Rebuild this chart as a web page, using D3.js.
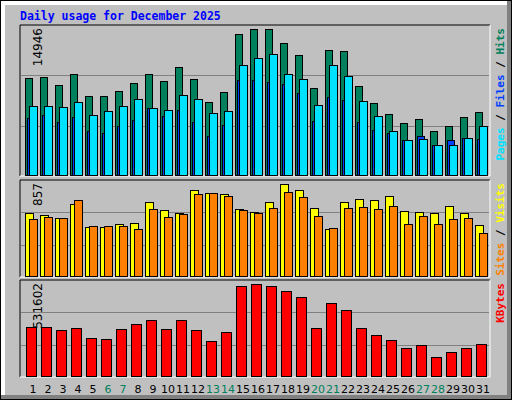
<!DOCTYPE html>
<html><head><meta charset="utf-8">
<script src="https://cdn.jsdelivr.net/npm/d3@7"></script>
<style>body{margin:0;background:#fff}</style>
</head><body>
<div id="chart"></div>
<script>
// values
const days = d3.range(1, 32);
const weekend = [6, 7, 13, 14, 20, 21, 27, 28];
const hits = [9933,10035,9222,10340,8103,8103,8612,9425,10340,9628,11052,9832,7493,8510,14407,14946,14900,13492,12272,8917,12780,12678,9120,7391,6273,5358,5765,4545,5053,5968,6476];
const files = [7086,7086,6985,7493,6171,6578,7086,7798,6883,6680,8205,7798,6375,6578,11255,11967,12373,10340,9832,7188,11255,10137,7595,6070,4545,3630,3731,3020,3020,3833,5053];
const pages = [5866,6171,5460,5968,4545,4341,5053,5663,6883,6070,6680,5460,4036,5155,9730,9730,9527,9323,8408,5561,8001,7697,5460,4646,4341,3630,4036,3020,3630,3833,3731];
const visits = [586,567,539,670,455,455,483,492,689,614,586,801,773,763,623,595,689,857,801,633,436,689,717,707,745,605,595,586,651,586,474];
const sites = [530,548,539,707,464,464,464,436,623,548,576,763,773,745,614,586,633,782,735,558,446,633,642,623,651,483,558,483,530,539,399];
const kbytes = [281329,281329,263867,275508,217302,211481,269688,298791,322073,269688,322073,263867,199841,252226,519974,531602,519974,490871,455947,275508,421023,380279,275508,234764,205661,159096,176558,112532,135814,159096,182379];

const W = 512, H = 400;
const svg = d3.select("#chart").append("svg").attr("width", W).attr("height", H);

// frame with 3D edges
svg.append("rect").attr("x", 0).attr("y", 0).attr("width", W).attr("height", H).attr("fill", "#000");
svg.append("rect").attr("x", 1).attr("y", 1).attr("width", W - 2).attr("height", H - 2).attr("fill", "#808080");
svg.append("rect").attr("x", 1).attr("y", 1).attr("width", W - 6).attr("height", H - 6).attr("fill", "#fff");
svg.append("rect").attr("x", 5).attr("y", 5).attr("width", W - 10).attr("height", H - 10).attr("fill", "#c0c0c0");

svg.append("text").attr("x", 20).attr("y", 20)
  .style("font", "bold 11.5px 'DejaVu Sans Mono'").attr("fill", "#0000ff")
  .text("Daily usage for December 2025");

const x = d3.scaleBand().domain(days).range([25, 490]).paddingInner(0).paddingOuter(0);
// slot width 15
const slot = d => 25 + (d - 1) * 15;

function panel(top, bottom, max, label, series, legend) {
  svg.append("rect").attr("x", 20).attr("y", top).attr("width", 470).attr("height", bottom - top)
    .attr("fill", "#c0c0c0");
  svg.append("path").attr("d", `M20,${bottom}V${top}H490`).attr("stroke", "#000").attr("fill", "none");
  svg.append("path").attr("d", `M490,${top}V${bottom}H20`).attr("stroke", "#fff").attr("fill", "none");
  const y = d3.scaleLinear().domain([0, max]).range([bottom - 1, top + 4]);
  const h = bottom - top;
  [1, 2].forEach(k => svg.append("line").attr("x1", 21).attr("x2", 489)
    .attr("y1", Math.round(top + h * k / 3) + 0.5).attr("y2", Math.round(top + h * k / 3) + 0.5)
    .attr("stroke", "#808080"));
  series.forEach(s => {
    svg.append("g").selectAll("rect").data(s.values).join("rect")
      .attr("x", (v, i) => slot(days[i]) + s.dx + 0.5)
      .attr("width", s.w)
      .attr("y", v => Math.round(y(v)) + 0.5)
      .attr("height", v => Math.round(y(0)) - Math.round(y(v)))
      .attr("fill", s.color).attr("stroke", "#000");
  });
  svg.append("text").attr("transform", `translate(42,${top + 3}) rotate(-90)`)
    .attr("text-anchor", "end").style("font", "12px 'DejaVu Sans'").attr("fill", "#000")
    .text(label);
  const t = svg.append("text").attr("transform", `translate(504,${top + 3}) rotate(-90)`)
    .attr("text-anchor", "end").style("font", "bold 11px 'DejaVu Sans Mono'");
  legend.forEach(l => t.append("tspan").attr("fill", l[1]).text(l[0]));
}

panel(25, 176, 14946, "14946", [
  {values: hits, color: "#00805c", dx: 0, w: 7},
  {values: pages, color: "#0040ff", dx: 2, w: 7},
  {values: files, color: "#00e0ff", dx: 4, w: 8}
], [["Pages", "#00e0ff"], [" / ", "#000"], ["Files", "#0040ff"], [" / ", "#000"], ["Hits", "#00805c"]]);

panel(180, 277, 857, "857", [
  {values: visits, color: "#ffff00", dx: 0, w: 8},
  {values: sites, color: "#ff8000", dx: 4, w: 8}
], [["Sites", "#ff8000"], [" / ", "#000"], ["Visits", "#ffff00"]]);

panel(280, 377, 531602, "531602", [
  {values: kbytes, color: "#ff0000", dx: 1, w: 10}
], [["KBytes", "#ff0000"]]);

svg.append("g").selectAll("text").data(days).join("text")
  .attr("x", d => slot(d) + 8).attr("y", 393)
  .attr("text-anchor", "middle").style("font", "11px 'DejaVu Sans'")
  .attr("fill", d => weekend.includes(d) ? "#00805c" : "#000")
  .text(d => d);
</script>
</body></html>
